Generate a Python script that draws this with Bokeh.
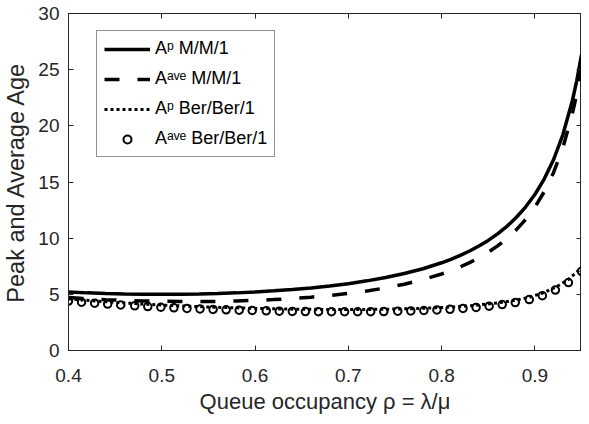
from bokeh.plotting import figure
from bokeh.models import Range1d, LinearAxis, FixedTicker, Legend, LegendItem
from bokeh.embed import file_html
from bokeh.resources import INLINE

# ---- data ----
rho_mm1 = [0.40, 0.42, 0.44, 0.46, 0.48, 0.50, 0.52, 0.54, 0.56, 0.58, 0.60,
           0.62, 0.64, 0.66, 0.68, 0.70, 0.72, 0.74, 0.76, 0.78, 0.80,
           0.81, 0.82, 0.83, 0.84, 0.85, 0.86, 0.87, 0.88, 0.89, 0.90,
           0.91, 0.92, 0.93, 0.94, 0.945, 0.95]
peak_mm1 = [5.21, 5.13, 5.07, 5.03, 5.01, 5.00, 5.01, 5.03, 5.07, 5.13, 5.21,
            5.31, 5.43, 5.57, 5.74, 5.95, 6.20, 6.50, 6.85, 7.28, 7.81,
            8.12, 8.47, 8.86, 9.30, 9.80, 10.38, 11.05, 11.84, 12.77, 13.89,
            15.26, 16.98, 19.20, 22.16, 24.05, 26.32]
ave_mm1 = [4.71, 4.61, 4.52, 4.46, 4.41, 4.38, 4.36, 4.36, 4.37, 4.41, 4.46,
           4.53, 4.63, 4.75, 4.89, 5.08, 5.30, 5.57, 5.90, 6.31, 6.81,
           7.11, 7.44, 7.82, 8.25, 8.74, 9.31, 9.96, 10.74, 11.66, 12.76,
           14.13, 15.83, 18.04, 20.99, 22.87, 25.13]

rho_ber = [0.400, 0.414, 0.428, 0.442, 0.456, 0.471, 0.485, 0.499, 0.513, 0.527,
           0.541, 0.555, 0.569, 0.583, 0.597, 0.612, 0.626, 0.640, 0.654, 0.668,
           0.682, 0.696, 0.710, 0.724, 0.738, 0.753, 0.767, 0.781, 0.795, 0.809,
           0.823, 0.837, 0.851, 0.865, 0.879, 0.894, 0.908, 0.922, 0.936, 0.950]
peak_ber = [4.60, 4.50, 4.41, 4.33, 4.25, 4.18, 4.11, 4.05, 4.00, 3.95,
            3.90, 3.86, 3.82, 3.79, 3.76, 3.73, 3.70, 3.68, 3.67, 3.66,
            3.65, 3.65, 3.65, 3.66, 3.67, 3.70, 3.72, 3.76, 3.81, 3.87,
            3.94, 4.03, 4.15, 4.29, 4.47, 4.74, 5.10, 5.62, 6.32, 7.35]
ave_ber = [4.40, 4.30, 4.21, 4.13, 4.05, 3.98, 3.91, 3.85, 3.80, 3.75,
           3.70, 3.66, 3.62, 3.59, 3.56, 3.53, 3.50, 3.48, 3.47, 3.46,
           3.45, 3.45, 3.45, 3.46, 3.47, 3.50, 3.52, 3.56, 3.61, 3.67,
           3.74, 3.83, 3.95, 4.09, 4.27, 4.53, 4.88, 5.38, 6.05, 7.05]

x_ticks = [0.4, 0.5, 0.6, 0.7, 0.8, 0.9]
y_ticks = [0, 5, 10, 15, 20, 25, 30]
labels = ["A\u1d56 M/M/1", "A\u1d43\u1d5b\u1d49 M/M/1",
          "A\u1d56 Ber/Ber/1", "A\u1d43\u1d5b\u1d49 Ber/Ber/1"]
x_label = "Queue occupancy \u03c1 = \u03bb/\u03bc"
y_label = "Peak and Average Age"

FONT = "Liberation Sans"
AX = "#262626"

p = figure(width=581, height=416, x_range=Range1d(0.4, 0.95), y_range=Range1d(0, 30),
           output_backend="svg", toolbar_location=None,
           min_border_left=61, min_border_right=0, min_border_top=13, min_border_bottom=62,
           x_axis_label=x_label, y_axis_label=y_label)
p.grid.visible = False
p.outline_line_color = AX
p.outline_line_width = 1

for ax in (p.xaxis[0], p.yaxis[0]):
    ax.major_tick_in = 5
    ax.major_tick_out = 0
    ax.minor_tick_line_color = None
    ax.axis_line_color = AX
    ax.major_tick_line_color = AX
    ax.major_label_text_font = FONT
    ax.major_label_text_font_size = "19px"
    ax.major_label_text_color = AX
    ax.axis_label_text_font = FONT
    ax.axis_label_text_font_style = "normal"
    ax.axis_label_text_color = AX
p.xaxis[0].axis_label_text_font_size = "22px"
p.yaxis[0].axis_label_text_font_size = "23.5px"
p.xaxis[0].ticker = FixedTicker(ticks=x_ticks)
p.yaxis[0].ticker = FixedTicker(ticks=y_ticks)
p.xaxis[0].major_label_standoff = 18
p.xaxis[0].axis_label_standoff = 4
p.yaxis[0].major_label_standoff = 9
p.yaxis[0].axis_label_standoff = 6

for loc, ticks in (("right", y_ticks), ("above", x_ticks)):
    a = LinearAxis(ticker=FixedTicker(ticks=ticks), major_tick_in=5, major_tick_out=0,
                   minor_tick_line_color=None, axis_line_color=AX, major_tick_line_color=AX,
                   major_label_text_font_size="0px", major_label_standoff=0,
                   axis_label_standoff=0)
    p.add_layout(a, loc)

r1 = p.line(rho_mm1, peak_mm1, line_color="black", line_width=3.5)
r2 = p.line(rho_mm1, ave_mm1, line_color="black", line_width=3.5, line_dash="15 18")
r3 = p.line(rho_ber, peak_ber, line_color="black", line_width=3, line_dash="3 3")
r4 = p.scatter(rho_ber, ave_ber, marker="circle", size=7.5, fill_color=None,
               line_color="black", line_width=2)

legend = Legend(items=[LegendItem(label=labels[0], renderers=[r1]),
                       LegendItem(label=labels[1], renderers=[r2]),
                       LegendItem(label=labels[2], renderers=[r3]),
                       LegendItem(label=labels[3], renderers=[r4])],
                location=(28, 193), margin=0, padding=7, spacing=9,
                glyph_width=46, glyph_height=20, label_height=20, label_standoff=5,
                label_text_font=FONT, label_text_font_size="18px", label_text_color="black",
                border_line_color=AX, border_line_width=1,
                background_fill_color="white", background_fill_alpha=1)
p.add_layout(legend)

open("out.html", "w").write(file_html(p, INLINE))
